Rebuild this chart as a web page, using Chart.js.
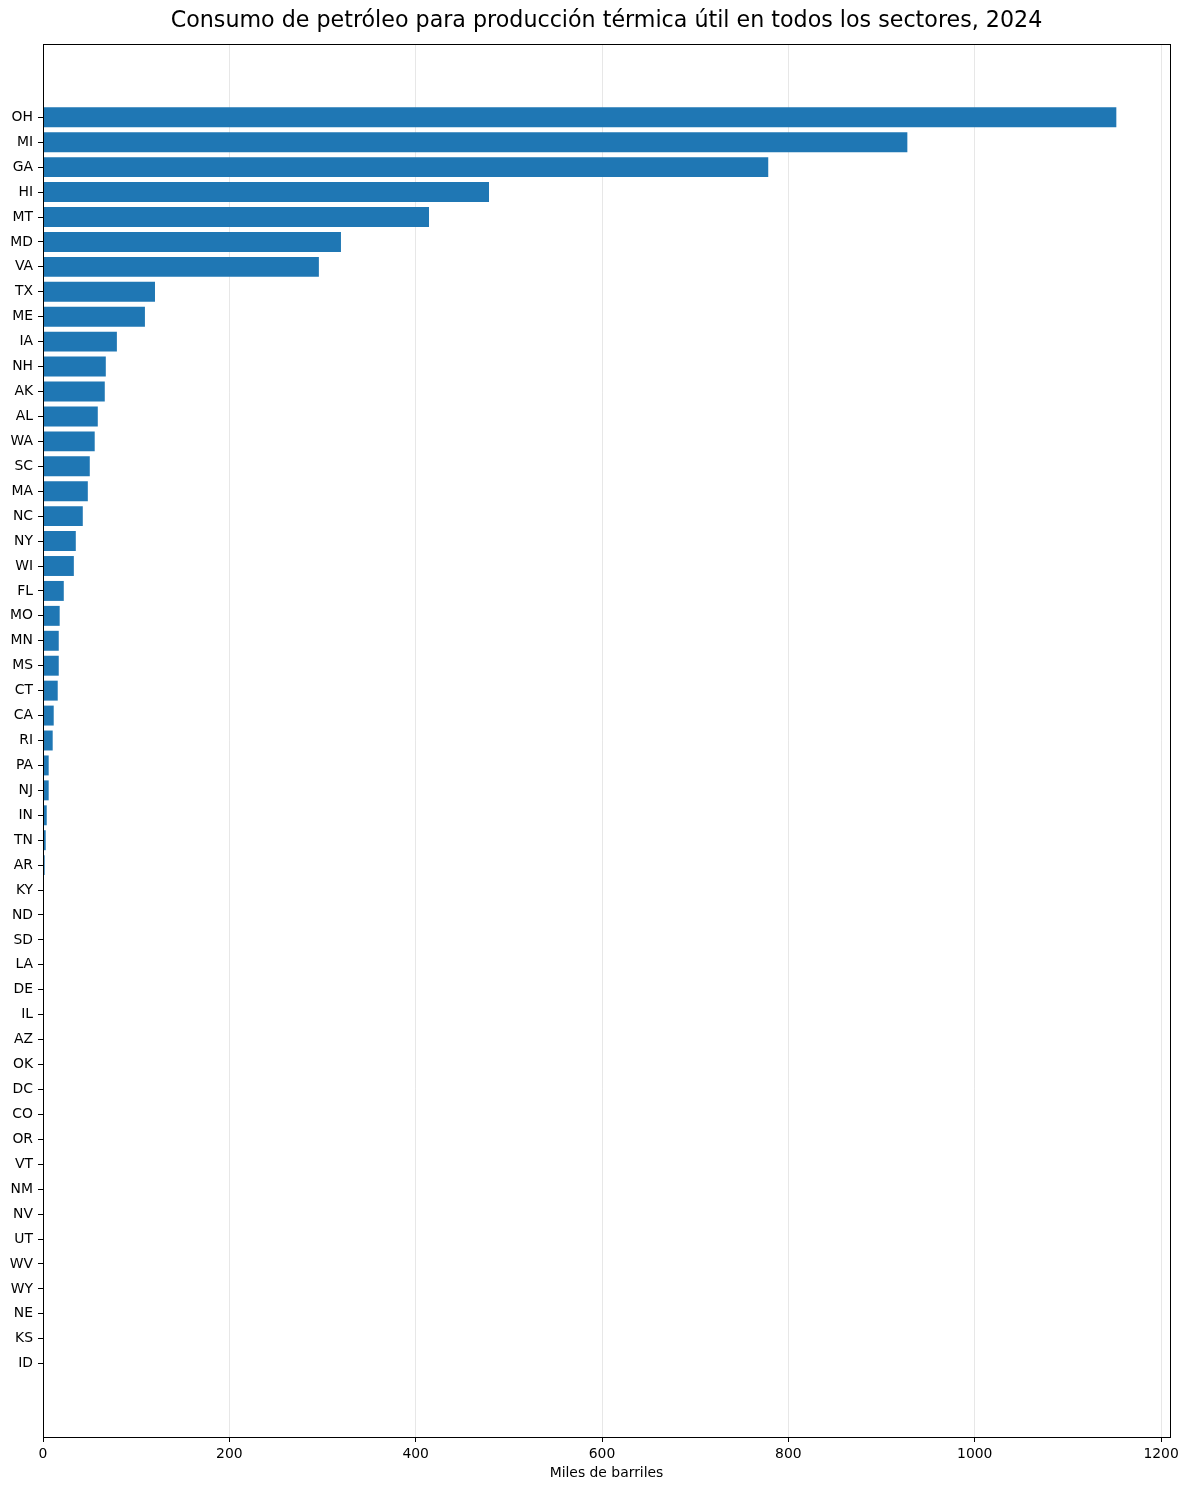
<!DOCTYPE html>
<html>
<head>
<meta charset="utf-8">
<script src="https://cdn.jsdelivr.net/npm/chart.js@4/dist/chart.umd.min.js"></script>
<style>
  body { margin: 0; background: #fff; }
  canvas { display: block; }
</style>
</head>
<body>
<canvas id="grafico" width="1188" height="1490"></canvas>
<script>
// Estados ordenados do maior para o menor consumo
const estados = [
  "OH", "MI", "GA", "HI", "MT", "MD", "VA", "TX", "ME", "IA",
  "NH", "AK", "AL", "WA", "SC", "MA", "NC", "NY", "WI", "FL",
  "MO", "MN", "MS", "CT", "CA", "RI", "PA", "NJ", "IN", "TN",
  "AR", "KY", "ND", "SD", "LA", "DE", "IL", "AZ", "OK", "DC",
  "CO", "OR", "VT", "NM", "NV", "UT", "WV", "WY", "NE", "KS", "ID",
];

// Miles de barriles
const consumo = [
  1152, 927.7, 778.4, 478.7, 414.3, 319.8, 296.1, 120.2, 109.4, 79.3,
  67.4, 66.3, 58.8, 55.5, 50.2, 48.1, 42.7, 35.2, 33.1, 22.3,
  17.9, 16.9, 16.9, 15.8, 11.5, 10.4, 6.1, 6.1, 4.0, 2.9,
  1.8, 0, 0, 0, 0, 0, 0, 0, 0, 0,
  0, 0, 0, 0, 0, 0, 0, 0, 0, 0, 0,
];

const xTicks = [0, 200, 400, 600, 800, 1000, 1200];

const titulo = "Consumo de petróleo para producción térmica útil en todos los sectores, 2024";

const fonte = "'DejaVu Sans', sans-serif";

// Moldura completa em volta da área do gráfico + título centrado sobre os eixos (estilo matplotlib)
const moldura = {
  id: "moldura",
  afterDatasetsDraw(chart) {
    const { ctx, chartArea } = chart;
    ctx.save();
    ctx.strokeStyle = "#000";
    ctx.lineWidth = 1;
    ctx.strokeRect(
      Math.round(chartArea.left) + 0.5,
      Math.round(chartArea.top) + 0.5,
      Math.round(chartArea.right - chartArea.left),
      Math.round(chartArea.bottom - chartArea.top)
    );
    ctx.fillStyle = "#000";
    ctx.font = "22.2px " + fonte;
    ctx.textAlign = "center";
    ctx.textBaseline = "middle";
    ctx.fillText(titulo, (chartArea.left + chartArea.right) / 2, 21);
    ctx.restore();
  },
};

new Chart(document.getElementById("grafico").getContext("2d"), {
  type: "bar",
  data: {
    datasets: [
      {
        data: consumo.map((v, i) => ({ x: v, y: i })),
        backgroundColor: "#1f77b4",
        borderWidth: 0,
        barPercentage: 0.8,
        categoryPercentage: 1.0,
      },
    ],
  },
  options: {
    indexAxis: "y",
    responsive: false,
    devicePixelRatio: 1,
    animation: false,
    layout: { padding: { left: 0, right: 18, top: 44, bottom: 0 } },
    scales: {
      x: {
        type: "linear",
        min: 0,
        max: 1209.6,
        afterBuildTicks: (scale) => {
          scale.ticks = xTicks.map((v) => ({ value: v }));
        },
        afterFit: (scale) => {
          scale.height = 53;
        },
        ticks: {
          color: "#000",
          font: { family: fonte, size: 13.9 },
          padding: 4,
          callback: (value) => String(value),
        },
        grid: {
          color: "rgba(176,176,176,0.3)",
          tickColor: "#000",
          tickLength: 5,
        },
        border: { display: false },
        title: {
          display: true,
          text: "Miles de barriles",
          color: "#000",
          font: { family: fonte, size: 13.9 },
          padding: { top: 2, bottom: 8 },
        },
      },
      y: {
        type: "linear",
        reverse: true,
        offset: false,
        min: -2.94,
        max: estados.length - 1 + 2.94,
        afterBuildTicks: (scale) => {
          scale.ticks = estados.map((_, i) => ({ value: i }));
        },
        afterFit: (scale) => {
          scale.width = 43;
        },
        ticks: {
          autoSkip: false,
          color: "#000",
          font: { family: fonte, size: 13.9 },
          padding: 5,
          callback: (value) => estados[value],
        },
        grid: {
          offset: false,
          drawOnChartArea: false,
          tickColor: "#000",
          tickLength: 5,
        },
        border: { display: false },
      },
    },
    plugins: {
      legend: { display: false },
      tooltip: { enabled: false },
      title: { display: false },
    },
  },
  plugins: [moldura],
});
</script>
</body>
</html>
